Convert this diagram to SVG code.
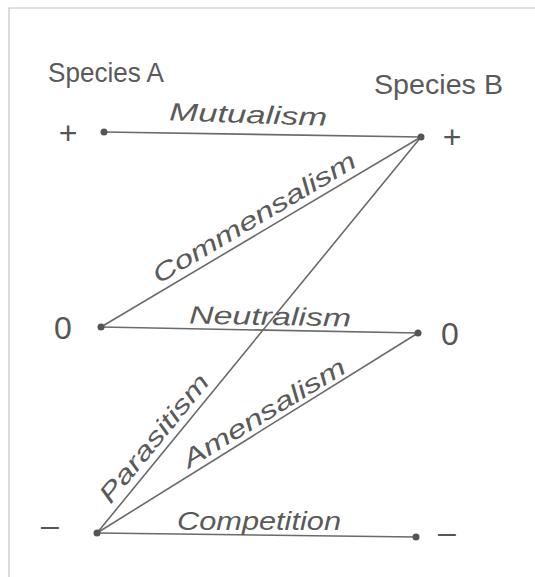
<svg xmlns="http://www.w3.org/2000/svg" width="535" height="577" viewBox="0 0 535 577">
<style>
.frame{stroke:#c4c4c4;stroke-width:1.2;fill:none}
.edge{stroke:#6a6a6a;stroke-width:1.6;fill:none;stroke-linecap:round}
.dot{fill:#555}
.lbl{font-family:"Liberation Sans","DejaVu Sans",sans-serif;font-size:25px;fill:#5a5a5a;font-style:italic}
.sign{font-family:"Liberation Sans","DejaVu Sans",sans-serif;font-size:32px;fill:#555;text-anchor:middle}
.head{font-family:"Liberation Sans","DejaVu Sans",sans-serif;font-size:28px;fill:#5a5a5a}
</style>
<rect width="535" height="577" fill="#fff"/>
<path class="frame" d="M9,577 V8 H535"/>

<g id="header-a"><text class="head" x="48" y="82" textLength="116" lengthAdjust="spacingAndGlyphs">Species A</text></g>
<g id="header-b"><text class="head" x="374" y="94" textLength="129" lengthAdjust="spacingAndGlyphs">Species B</text></g>

<g id="connectors">
  <line class="edge" x1="104" y1="132" x2="421" y2="137"/>
  <line class="edge" x1="101" y1="327" x2="421" y2="137"/>
  <line class="edge" x1="101" y1="327" x2="418" y2="333"/>
  <line class="edge" x1="97" y1="533" x2="421" y2="137"/>
  <line class="edge" x1="97" y1="533" x2="418" y2="333"/>
  <line class="edge" x1="97" y1="533" x2="416" y2="537"/>
  <text class="lbl" x="169" y="123" textLength="158" lengthAdjust="spacingAndGlyphs" transform="rotate(2 248 123)">Mutualism</text>
  <text class="lbl" text-anchor="middle" textLength="232" lengthAdjust="spacingAndGlyphs" transform="translate(262,231) rotate(-30.7)" x="0" y="-7">Commensalism</text>
  <text class="lbl" x="189" y="325" textLength="162" lengthAdjust="spacingAndGlyphs" transform="rotate(1 270 325)">Neutralism</text>
  <text class="lbl" text-anchor="middle" textLength="158" lengthAdjust="spacingAndGlyphs" transform="translate(166,448) rotate(-50.7)" x="0" y="-7">Parasitism</text>
  <text class="lbl" text-anchor="middle" textLength="186" lengthAdjust="spacingAndGlyphs" transform="translate(272,426) rotate(-31.4)" x="0" y="-7">Amensalism</text>
  <text class="lbl" x="177" y="530" textLength="164" lengthAdjust="spacingAndGlyphs">Competition</text>
</g>

<g id="a-plus"><text class="sign" x="68" y="144">+</text><circle class="dot" cx="104" cy="132" r="3.5"/></g>
<g id="b-plus"><text class="sign" x="452" y="148">+</text><circle class="dot" cx="421" cy="137" r="3.5"/></g>
<g id="a-zero"><text class="sign" x="63" y="339">0</text><circle class="dot" cx="101" cy="327" r="3.5"/></g>
<g id="b-zero"><text class="sign" x="450" y="345">0</text><circle class="dot" cx="418" cy="333" r="3.5"/></g>
<g id="a-minus"><text class="sign" x="50" y="536">–</text><circle class="dot" cx="97" cy="533" r="3.5"/></g>
<g id="b-minus"><text class="sign" x="447" y="543">–</text><circle class="dot" cx="416" cy="537" r="3.5"/></g>
</svg>
